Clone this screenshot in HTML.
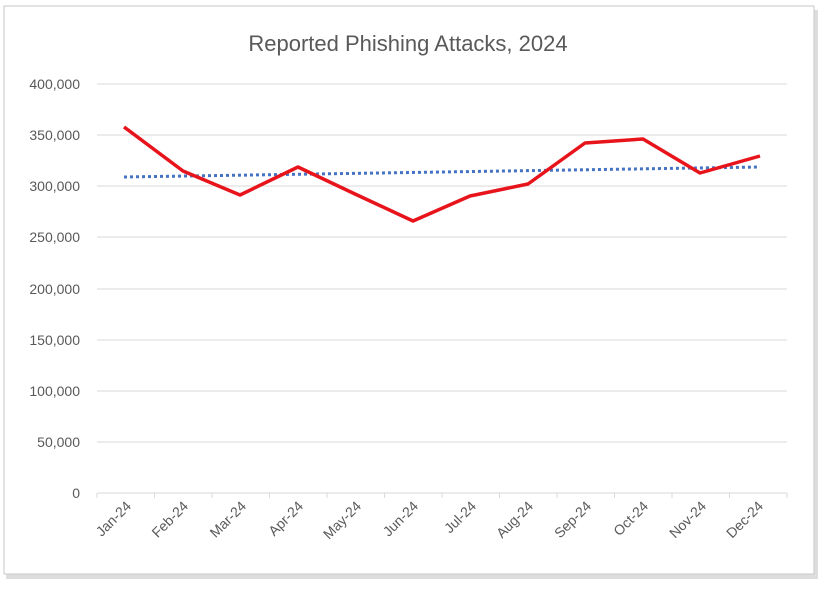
<!DOCTYPE html>
<html><head><style>
body{margin:0;background:#fff;}
</style></head><body>
<svg width="824" height="587" xmlns="http://www.w3.org/2000/svg" font-family="Liberation Sans, sans-serif">
<rect x="0" y="0" width="824" height="587" fill="#fff"/>
<rect x="6" y="10" width="812" height="569" fill="#cfcfcf" opacity="0.7"/>
<rect x="4" y="6" width="810" height="568" fill="#fff" stroke="#d0d0d0" stroke-width="1.2"/>
<text x="408" y="51" text-anchor="middle" font-size="22" fill="#595959">Reported Phishing Attacks, 2024</text>
<g stroke="#d9d9d9" stroke-width="1">
<line x1="97" x2="787" y1="84" y2="84"/><line x1="97" x2="787" y1="135" y2="135"/>
<line x1="97" x2="787" y1="186" y2="186"/><line x1="97" x2="787" y1="237" y2="237"/>
<line x1="97" x2="787" y1="289" y2="289"/><line x1="97" x2="787" y1="340" y2="340"/>
<line x1="97" x2="787" y1="391" y2="391"/><line x1="97" x2="787" y1="442" y2="442"/>
<line x1="97" x2="787" y1="493" y2="493"/>
</g>
<g stroke="#d9d9d9" stroke-width="1">
<line x1="97" x2="97" y1="493" y2="498"/><line x1="154.5" x2="154.5" y1="493" y2="498"/><line x1="212" x2="212" y1="493" y2="498"/><line x1="269.5" x2="269.5" y1="493" y2="498"/><line x1="327" x2="327" y1="493" y2="498"/><line x1="384.5" x2="384.5" y1="493" y2="498"/><line x1="442" x2="442" y1="493" y2="498"/><line x1="499.5" x2="499.5" y1="493" y2="498"/><line x1="557" x2="557" y1="493" y2="498"/><line x1="614.5" x2="614.5" y1="493" y2="498"/><line x1="672" x2="672" y1="493" y2="498"/><line x1="729.5" x2="729.5" y1="493" y2="498"/><line x1="787" x2="787" y1="493" y2="498"/>
</g>
<g font-size="14" fill="#595959" text-anchor="end">
<text x="80" y="89">400,000</text><text x="80" y="140">350,000</text><text x="80" y="191">300,000</text>
<text x="80" y="242">250,000</text><text x="80" y="294">200,000</text><text x="80" y="345">150,000</text>
<text x="80" y="396">100,000</text><text x="80" y="447">50,000</text><text x="80" y="498">0</text>
</g>
<g font-size="14" fill="#595959" text-anchor="end">
<text transform="translate(132,507) rotate(-45)">Jan-24</text>
<text transform="translate(189,507) rotate(-45)">Feb-24</text>
<text transform="translate(247,507) rotate(-45)">Mar-24</text>
<text transform="translate(304,507) rotate(-45)">Apr-24</text>
<text transform="translate(362,507) rotate(-45)">May-24</text>
<text transform="translate(419,507) rotate(-45)">Jun-24</text>
<text transform="translate(477,507) rotate(-45)">Jul-24</text>
<text transform="translate(534,507) rotate(-45)">Aug-24</text>
<text transform="translate(592,507) rotate(-45)">Sep-24</text>
<text transform="translate(649,507) rotate(-45)">Oct-24</text>
<text transform="translate(707,507) rotate(-45)">Nov-24</text>
<text transform="translate(764,507) rotate(-45)">Dec-24</text>
</g>
<line x1="124" y1="177" x2="760" y2="167" stroke="#4472c4" stroke-width="3" stroke-dasharray="3,3"/>
<polyline fill="none" stroke="#e8141c" stroke-width="3.5" stroke-linejoin="round" points="124,127 183,171 240,195 298,167 355,194 413,221 470,196 528,184 585,143 643,139 700,173 760,156"/>
</svg>
</body></html>
